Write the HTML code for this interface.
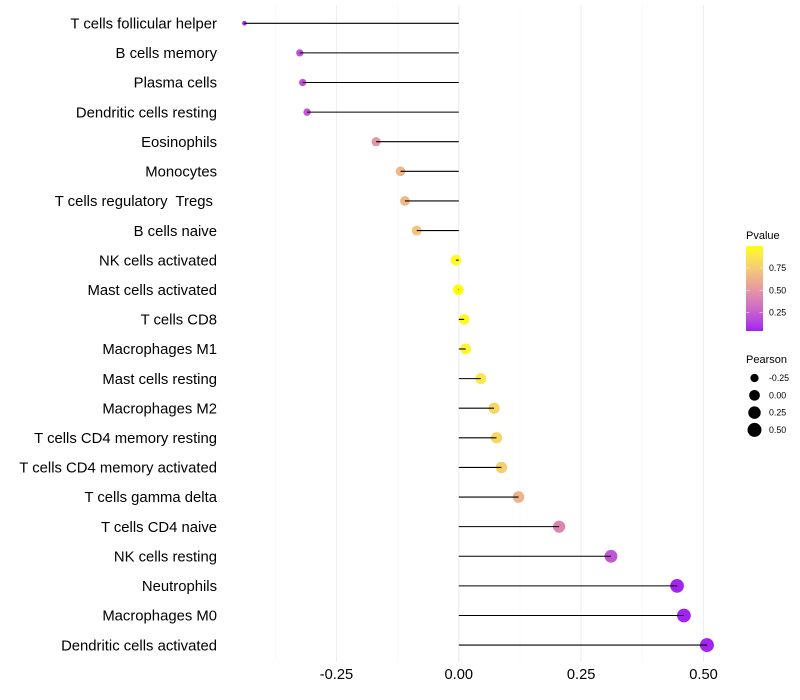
<!DOCTYPE html>
<html lang="en">
<head>
<meta charset="utf-8">
<title>Immune cell correlation lollipop chart</title>
<style>
  html, body { margin: 0; padding: 0; background: #fff; }
  #chart { display: block; width: 800px; height: 700px; font-family: "Liberation Sans", Arial, sans-serif; }
  text { white-space: pre; }
</style>
</head>
<body>
<svg id="chart" xmlns="http://www.w3.org/2000/svg" width="800" height="700" viewBox="0 0 800 700"></svg>
<script>
const categories = ["T cells follicular helper","B cells memory","Plasma cells","Dendritic cells resting","Eosinophils","Monocytes","T cells regulatory  Tregs ","B cells naive","NK cells activated","Mast cells activated","T cells CD8","Macrophages M1","Mast cells resting","Macrophages M2","T cells CD4 memory resting","T cells CD4 memory activated","T cells gamma delta","T cells CD4 naive","NK cells resting","Neutrophils","Macrophages M0","Dendritic cells activated"];
const pearsonValues = [-0.438,-0.325,-0.319,-0.31,-0.169,-0.119,-0.11,-0.086,-0.006,-0.001,0.011,0.014,0.045,0.072,0.077,0.087,0.122,0.205,0.311,0.446,0.46,0.507];
const pValues = [0.05,0.2,0.2,0.22,0.5,0.65,0.65,0.72,0.98,0.995,0.96,0.95,0.88,0.8,0.8,0.76,0.63,0.42,0.22,0.05,0.05,0.05];
const xTicks = [-0.25,0,0.25,0.5];
const xTickLabels = ["-0.25","0.00","0.25","0.50"];
const xGridMinor = [-0.375,-0.125,0.125,0.375];
const pvalueBreaks = [0.25,0.5,0.75];
const pvalueBreakLabels = ["0.25","0.50","0.75"];
const pearsonBreaks = [-0.25,0,0.25,0.5];
const pearsonBreakLabels = ["-0.25","0.00","0.25","0.50"];

const svg = document.getElementById('chart');
const NS = 'http://www.w3.org/2000/svg';
function make(tag, attrs, text) {
  const el = document.createElementNS(NS, tag);
  for (const k in attrs) el.setAttribute(k, attrs[k]);
  if (text !== undefined) el.textContent = text;
  svg.appendChild(el);
  return el;
}
const xScale = v => 458.8 + v * 489.4;
const yScale = i => 23.28 + i * 29.61;
const sizeMin = -0.45, sizeMax = 0.507;
const rScale = v => 1.7 + 5.3 * Math.sqrt(Math.max(0, (v - sizeMin) / (sizeMax - sizeMin)));
const pLow = 0.042, pHigh = 0.997;
const legendY = p => 331 - (p - pLow) / (pHigh - pLow) * 85;

function toLinear(c) { c /= 255; return c <= 0.04045 ? c / 12.92 : Math.pow((c + 0.055) / 1.055, 2.4); }
function fromLinear(c) { const v = c <= 0.0031308 ? 12.92 * c : 1.055 * Math.pow(c, 1 / 2.4) - 0.055; return Math.round(255 * Math.min(1, Math.max(0, v))); }
function rgbToLab(rgb) {
  const r = toLinear(rgb[0]), g = toLinear(rgb[1]), b = toLinear(rgb[2]);
  const f = t => t > 0.008856 ? Math.cbrt(t) : 7.787 * t + 16 / 116;
  const x = f((0.4124 * r + 0.3576 * g + 0.1805 * b) / 0.95047);
  const y = f(0.2126 * r + 0.7152 * g + 0.0722 * b);
  const z = f((0.0193 * r + 0.1192 * g + 0.9505 * b) / 1.08883);
  return [116 * y - 16, 500 * (x - y), 200 * (y - z)];
}
function labToRgb(lab) {
  const fy = (lab[0] + 16) / 116, fx = fy + lab[1] / 500, fz = fy - lab[2] / 200;
  const g = t => t * t * t > 0.008856 ? t * t * t : (t - 16 / 116) / 7.787;
  const X = g(fx) * 0.95047, Y = g(fy), Z = g(fz) * 1.08883;
  return 'rgb(' + fromLinear(3.2406 * X - 1.5372 * Y - 0.4986 * Z) + ',' + fromLinear(-0.9689 * X + 1.8758 * Y + 0.0415 * Z) + ',' + fromLinear(0.0557 * X - 0.204 * Y + 1.057 * Z) + ')';
}
const labA = rgbToLab([160, 32, 240]), labB = rgbToLab([255, 255, 0]);
function colorScale(p) {
  const t = Math.min(1, Math.max(0, (p - pLow) / (pHigh - pLow)));
  return labToRgb(labA.map((a, i) => a + (labB[i] - a) * t));
}

const plotTop = 5, plotBottom = 662;
xGridMinor.forEach(v => {
  const el = make('line', { x1: xScale(v), x2: xScale(v), y1: plotTop, y2: plotBottom, stroke: '#f4f4f4', 'stroke-width': 0.55 });
  
  
});
xTicks.forEach(v => {
  const el = make('line', { x1: xScale(v), x2: xScale(v), y1: plotTop, y2: plotBottom, stroke: '#eeeeee', 'stroke-width': 1.07 });
  
  
});

categories.forEach((c, i) => {
  const label = make('text', { x: 217, y: yScale(i) + 5.2, 'text-anchor': 'end', 'font-size': 14.85, fill: '#000' }, c);
  
  

  const dot = make('circle', { cx: xScale(pearsonValues[i]), cy: yScale(i), r: rScale(pearsonValues[i]), fill: colorScale(pValues[i]) });
  
  

  const stem = make('line', { x1: xScale(0), x2: xScale(pearsonValues[i]), y1: yScale(i), y2: yScale(i), stroke: '#000', 'stroke-width': 1.07 });
  
  
});

xTicks.forEach((v, i) => {
  const el = make('text', { x: xScale(v), y: 679, 'text-anchor': 'middle', 'font-size': 14.67, fill: '#000' }, xTickLabels[i]);
  
  
});

const defs = make('defs', {});
const grad = document.createElementNS(NS, 'linearGradient');
grad.setAttribute('id', 'pvalue-gradient');
grad.setAttribute('x1', '0'); grad.setAttribute('x2', '0'); grad.setAttribute('y1', '1'); grad.setAttribute('y2', '0');
for (let s = 0; s <= 20; s++) {
  const stop = document.createElementNS(NS, 'stop');
  stop.setAttribute('offset', s / 20);
  stop.setAttribute('stop-color', colorScale(pLow + (pHigh - pLow) * s / 20));
  grad.appendChild(stop);
}
defs.appendChild(grad);

const pTitle = make('text', { x: 746, y: 239, 'font-size': 11, fill: '#000' }, 'Pvalue');


const bar = make('rect', { x: 746, y: 246, width: 17, height: 85, fill: 'url(#pvalue-gradient)' });


pvalueBreaks.forEach((p, i) => {
  const y = legendY(p);
  [[746, 749.4], [759.6, 763]].forEach(seg => {
    const t = make('line', { x1: seg[0], x2: seg[1], y1: y, y2: y, stroke: '#fff', 'stroke-width': 0.6, 'stroke-opacity': 0.8 });
    
    
  });
  const l = make('text', { x: 769, y: y + 3.1, 'font-size': 8.8, fill: '#000' }, pvalueBreakLabels[i]);
  
  
});

const sTitle = make('text', { x: 746, y: 363, 'font-size': 11, fill: '#000' }, 'Pearson');


pearsonBreaks.forEach((v, i) => {
  const y = 378 + i * 17.3;
  const d = make('circle', { cx: 754.5, cy: y, r: rScale(v), fill: '#000' });
  
  
  const l = make('text', { x: 769, y: y + 3.1, 'font-size': 8.8, fill: '#000' }, pearsonBreakLabels[i]);
  
  
});
</script>
</body>
</html>
